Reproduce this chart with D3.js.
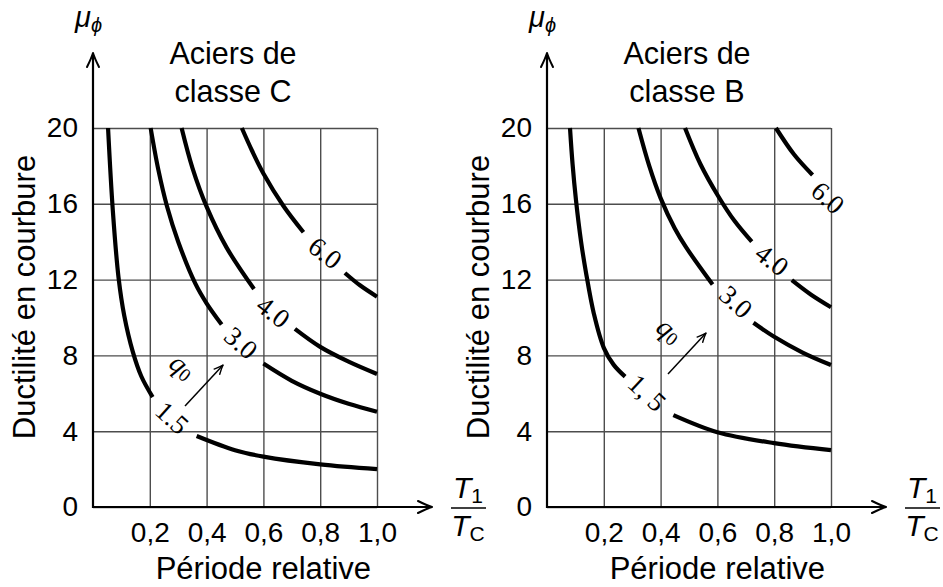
<!DOCTYPE html>
<html><head><meta charset="utf-8">
<script src="https://cdn.jsdelivr.net/npm/d3@7"></script>
<style>body{margin:0;background:#fff}</style>
</head><body>
<svg id="c" width="943" height="587"></svg>
<script>
// ---- tick data ----
const xTicks = [0.2, 0.4, 0.6, 0.8, 1.0];
const xTickLabels = ["0,2", "0,4", "0,6", "0,8", "1,0"];
const yTicks = [0, 4, 8, 12, 16, 20];

// ---- class C curves (x = T1/Tc, y = mu_phi); null marks a label gap ----
const C_q15_x = [0.053, 0.07, 0.09, 0.11, 0.14, 0.17, 0.21, null, 0.365, 0.5, 0.6, 0.8, 1.0];
const C_q15_y = [20, 15.6, 12.1, 10.1, 8.2, 6.9, 5.8, null, 3.75, 3.0, 2.66, 2.25, 2.0];
const C_q30_x = [0.203, 0.23, 0.26, 0.3, 0.36, 0.40, 0.453, null, 0.6, 0.7, 0.8, 0.9, 1.0];
const C_q30_y = [20, 17.8, 15.9, 14.0, 11.8, 10.75, 9.63, null, 7.57, 6.66, 5.98, 5.45, 5.03];
const C_q40_x = [0.312, 0.35, 0.40, 0.47, 0.567, null, 0.711, 0.8, 0.9, 1.0];
const C_q40_y = [20, 17.9, 15.85, 13.7, 11.5, null, 9.4, 8.45, 7.67, 7.02];
const C_q60_x = [0.524, 0.56, 0.6, 0.67, 0.741, null, 0.887, 0.94, 1.0];
const C_q60_y = [20, 18.8, 17.6, 15.9, 14.5, null, 12.35, 11.7, 11.1];

// ---- class B curves ----
const B_q15_x = [0.081, 0.09, 0.102, 0.12, 0.137, 0.165, 0.2, 0.235, 0.275, null, 0.445, 0.6, 0.8, 1.0];
const B_q15_y = [20, 18.1, 16.2, 14.0, 12.4, 10.2, 8.4, 7.5, 6.88, null, 4.85, 3.95, 3.37, 3.0];
const B_q30_x = [0.322, 0.36, 0.40, 0.45, 0.49, 0.583, null, 0.727, 0.8, 0.9, 1.0];
const B_q30_y = [20, 18.0, 16.3, 14.7, 13.7, 11.74, null, 9.72, 8.98, 8.15, 7.49];
const B_q40_x = [0.486, 0.54, 0.603, 0.66, 0.721, null, 0.862, 0.93, 1.0];
const B_q40_y = [20, 18.1, 16.4, 15.1, 14.0, null, 11.97, 11.2, 10.54];
const B_q60_x = [0.806, 0.87, 0.935];
const B_q60_y = [20, 18.6, 17.52];

// ---- curve labels (q0 values) ----
const C_labels = ["1.5", "3.0", "4.0", "6.0"];
const B_labels = ["1, 5", "3.0", "4.0", "6.0"];

function pts(xs, ys) { return xs.map((v, i) => v === null ? null : [v, ys[i]]); }

const panels = [
  {
    title: ["Aciers de", "classe C"], left: 93,
    curves: [pts(C_q15_x, C_q15_y), pts(C_q30_x, C_q30_y), pts(C_q40_x, C_q40_y), pts(C_q60_x, C_q60_y)],
    labels: C_labels,
    labelAt: [[0.278, 4.70, 42], [0.521, 8.65, 41], [0.634, 10.29, 38], [0.817, 13.40, 38]],
    qAt: [0.317, 7.44, 40], arrow: [[0.324, 5.33], [0.458, 7.49]]
  },
  {
    title: ["Aciers de", "classe B"], left: 547,
    curves: [pts(B_q15_x, B_q15_y), pts(B_q30_x, B_q30_y), pts(B_q40_x, B_q40_y), pts(B_q60_x, B_q60_y)],
    labels: B_labels,
    labelAt: [[0.352, 6.02, 43], [0.665, 10.82, 42], [0.792, 13.03, 38], [0.989, 16.31, 42]],
    qAt: [0.433, 9.34, 40], arrow: [[0.426, 7.02], [0.560, 9.18]]
  }
];

const svg = d3.select("#c");
const SANS = "'Liberation Sans', Arial, Helvetica, sans-serif";
const SERIF = "'Liberation Serif', 'DejaVu Serif', serif";

function arrowHead(g, tx, ty, ang, L, Wd, sw) {
  const c = Math.cos(ang), s = Math.sin(ang);
  const P = (a, b) => [tx + a * c - b * s, ty + a * s + b * c];
  const p1 = P(-L, -Wd), p2 = P(-L, Wd), m1 = P(-L * 0.35, -Wd * 0.25), m2 = P(-L * 0.35, Wd * 0.25);
  g.append("path")
    .attr("d", `M${p1}Q${m1} ${tx},${ty}Q${m2} ${p2}`)
    .attr("fill", "none").attr("stroke", "#000").attr("stroke-width", sw)
    .attr("stroke-linecap", "round").attr("stroke-linejoin", "round");
}

panels.forEach(p => {
  const x = d3.scaleLinear().domain([0, 1]).range([p.left, p.left + 284]);
  const y = d3.scaleLinear().domain([0, 20]).range([507, 128]);
  const g = svg.append("g");

  const ax = g.append("g").attr("transform", `translate(0,${y(0)})`)
    .call(d3.axisBottom(x).tickValues(xTicks).tickFormat((d, i) => xTickLabels[i])
      .tickSize(-(y(0) - y(20))).tickPadding(15));
  const ay = g.append("g").attr("transform", `translate(${x(0)},0)`)
    .call(d3.axisLeft(y).tickValues(yTicks).tickFormat(d3.format("d"))
      .tickSize(-(x(1) - x(0))).tickPadding(15));
  [ax, ay].forEach(a => {
    a.select(".domain").remove();
    a.selectAll("line").attr("stroke", "#4d4d4d").attr("stroke-width", 1.4);
    a.selectAll("text").attr("font-family", SANS).attr("font-size", 28).attr("fill", "#000");
  });

  g.append("line").attr("x1", x(0)).attr("x2", x(0)).attr("y1", y(0) + 1).attr("y2", 55)
    .attr("stroke", "#000").attr("stroke-width", 2.2);
  arrowHead(g, x(0), 53, -Math.PI / 2, 14, 6, 2);
  g.append("line").attr("x1", x(0) - 1).attr("x2", x(0) + 337).attr("y1", y(0)).attr("y2", y(0))
    .attr("stroke", "#000").attr("stroke-width", 2.2);
  arrowHead(g, x(0) + 339, y(0), 0, 14, 6, 2);

  const line = d3.line().defined(d => d !== null).x(d => x(d[0])).y(d => y(d[1]))
    .curve(d3.curveCatmullRom.alpha(0.5));
  g.selectAll(".curve").data(p.curves).join("path")
    .attr("d", line).attr("fill", "none").attr("stroke", "#000").attr("stroke-width", 4.2);

  p.labels.forEach((t, i) => {
    const [lx, ly, a] = p.labelAt[i];
    g.append("text").attr("transform", `translate(${x(lx)},${y(ly)}) rotate(${a})`)
      .attr("text-anchor", "middle").attr("dominant-baseline", "central")
      .attr("font-family", SERIF).attr("font-size", 27).text(t);
  });

  const qt = g.append("text").attr("transform", `translate(${x(p.qAt[0])},${y(p.qAt[1])}) rotate(${p.qAt[2]})`)
    .attr("text-anchor", "middle").attr("dominant-baseline", "central")
    .attr("font-family", SERIF).attr("font-size", 28);
  qt.append("tspan").attr("font-style", "italic").text("q");
  qt.append("tspan").attr("font-size", 19).attr("dy", 5).text("0");
  const [a0, a1] = p.arrow;
  g.append("line").attr("x1", x(a0[0])).attr("y1", y(a0[1])).attr("x2", x(a1[0])).attr("y2", y(a1[1]))
    .attr("stroke", "#000").attr("stroke-width", 1.5);
  arrowHead(g, x(a1[0]), y(a1[1]), Math.atan2(y(a1[1]) - y(a0[1]), x(a1[0]) - x(a0[0])), 9, 3.8, 1.4);

  const cx = x(0.493);
  p.title.forEach((t, i) => {
    g.append("text").attr("x", cx).attr("y", 64 + i * 38).attr("text-anchor", "middle")
      .attr("font-family", SANS).attr("font-size", 30.5).text(t);
  });

  const mu = g.append("text").attr("x", x(0) - 18).attr("y", 27).attr("font-family", SANS).attr("font-size", 29);
  mu.append("tspan").attr("font-style", "italic").text("μ");
  mu.append("tspan").attr("font-style", "italic").attr("font-size", 20).attr("dy", 5).text("ϕ");

  g.append("text").attr("transform", `translate(${x(0) - 58},297) rotate(-90)`)
    .attr("text-anchor", "middle").attr("font-family", SANS).attr("font-size", 31)
    .text("Ductilité en courbure");

  g.append("text").attr("x", x(0.6)).attr("y", 579).attr("text-anchor", "middle")
    .attr("font-family", SANS).attr("font-size", 31).text("Période relative");

  const fx = x(0) + 375;
  const t1 = g.append("text").attr("x", fx).attr("y", 498).attr("text-anchor", "middle")
    .attr("font-family", SANS).attr("font-size", 30);
  t1.append("tspan").attr("font-style", "italic").text("T");
  t1.append("tspan").attr("font-size", 21).attr("dy", 5).text("1");
  g.append("line").attr("x1", fx - 17).attr("x2", fx + 18).attr("y1", 508).attr("y2", 508)
    .attr("stroke", "#000").attr("stroke-width", 1.3);
  const t2 = g.append("text").attr("x", fx).attr("y", 536).attr("text-anchor", "middle")
    .attr("font-family", SANS).attr("font-size", 30);
  t2.append("tspan").attr("font-style", "italic").text("T");
  t2.append("tspan").attr("font-size", 21).attr("dy", 5).text("C");
});
</script>
</body></html>
